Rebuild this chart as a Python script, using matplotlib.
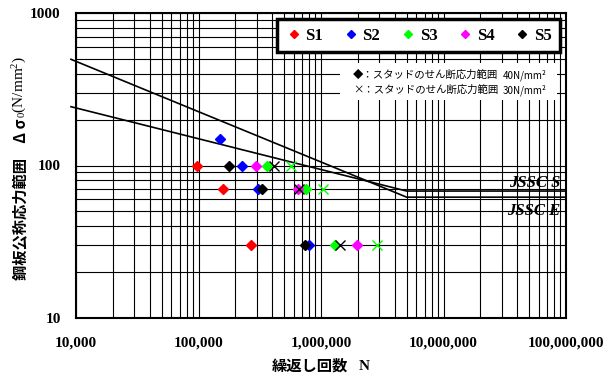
import matplotlib
matplotlib.use('Agg')
import matplotlib.pyplot as plt
from matplotlib.lines import Line2D
from matplotlib.patches import Rectangle
from matplotlib.ticker import FixedLocator, LogLocator, NullFormatter, FuncFormatter

# Data
series_names = ['S1', 'S2', 'S3', 'S4', 'S5']
series_colors = ['#ff0000', '#0000ff', '#00ff00', '#ff00ff', '#000000']

# stud shear stress range 40 N/mm2 -> diamonds
s1_n = [97000, 158000, 267000]
s1_s = [100, 70, 30]
s2_n = [149000, 228000, 306000, 791000]
s2_s = [150, 100, 70, 30]
s3_n = [362000, 748000, 1312000]
s3_s = [100, 70, 30]
s4_n = [292000, 647000, 1972000]
s4_s = [100, 70, 30]
s5_n = [176000, 330000, 734000]
s5_s = [100, 70, 30]

# stud shear stress range 30 N/mm2 -> crosses
s3_x_n = [572000, 1036000, 2870000]
s3_x_s = [100, 70, 30]
s5_x_n = [413000, 656000, 1432000]
s5_x_s = [100, 70, 30]

# design curves
jssc_e_n = [9100, 5.0e6, 1e8]
jssc_e_s = [497, 62, 62]
jssc_s_n = [9100, 5.0e6, 1e8]
jssc_s_s = [243, 68, 68]

x_ticks = [1e4, 1e5, 1e6, 1e7, 1e8]
y_ticks = [10, 100, 1000]

JP = 'Noto Sans CJK JP'
SERIF = 'Liberation Serif'
plt.rcParams['mathtext.fontset'] = 'custom'
plt.rcParams['mathtext.rm'] = SERIF
plt.rcParams['mathtext.it'] = SERIF

W, H = 607, 378
fig = plt.figure(figsize=(W / 100, H / 100), dpi=100)
ax = fig.add_axes([76 / W, 1 - 318 / H, 490 / W, 305 / H])

ax.set_xscale('log')
ax.set_yscale('log')
ax.set_xlim(1e4, 1e8)
ax.set_ylim(10, 1000)

ax.xaxis.set_major_locator(FixedLocator(x_ticks))
ax.yaxis.set_major_locator(FixedLocator(y_ticks))
ax.xaxis.set_minor_locator(LogLocator(base=10, subs=range(2, 10)))
ax.yaxis.set_minor_locator(LogLocator(base=10, subs=range(2, 10)))
ax.xaxis.set_minor_formatter(NullFormatter())
ax.yaxis.set_minor_formatter(NullFormatter())
ax.xaxis.set_major_formatter(FuncFormatter(lambda v, p: f"{int(round(v)):,}"))
ax.yaxis.set_major_formatter(FuncFormatter(lambda v, p: f"{int(round(v))}"))
ax.tick_params(which='both', length=0)
ax.tick_params(axis='x', pad=13)
ax.tick_params(axis='y', pad=11)
for lab in ax.get_xticklabels() + ax.get_yticklabels():
    lab.set_fontfamily(SERIF)
    lab.set_fontweight('bold')
    lab.set_fontsize(11)

ax.grid(True, which='both', color='black', linewidth=0.8)
for sp in ax.spines.values():
    sp.set_linewidth(1.5)

# design curves
ax.plot(jssc_e_n, jssc_e_s, color='black', lw=1.2, zorder=2, clip_on=False)
ax.plot(jssc_s_n, jssc_s_s, color='black', lw=1.2, zorder=2, clip_on=False)
ax.text(0.988, 0.443, 'JSSC S', transform=ax.transAxes, ha='right', va='center',
        family=SERIF, style='italic', weight='bold', fontsize=12, zorder=4)
ax.text(0.988, 0.351, 'JSSC E', transform=ax.transAxes, ha='right', va='center',
        family=SERIF, style='italic', weight='bold', fontsize=12, zorder=4)

# test points
all_n = [s1_n, s2_n, s3_n, s4_n, s5_n]
all_s = [s1_s, s2_s, s3_s, s4_s, s5_s]
handles = []
for name, col, n, s in zip(series_names, series_colors, all_n, all_s):
    ax.plot(n, s, linestyle='none', marker='D', ms=4.8, color=col, mec=col, zorder=3)
    handles.append(Line2D([], [], linestyle='none', marker='D', ms=4.0, color=col, label=name))
ax.plot(s3_x_n, s3_x_s, linestyle='none', marker='x', ms=7, mew=1.0, color='#00ff00', zorder=3)
ax.plot(s5_x_n, s5_x_s, linestyle='none', marker='x', ms=7, mew=1.0, color='black', zorder=3)

# legend box
leg = ax.legend(handles=handles, ncol=5, loc='lower left', mode='expand',
                bbox_to_anchor=((277 - 76) / 490, (318 - 52) / 305, 283 / 490, 36 / 305),
                frameon=True, fancybox=False, borderaxespad=0, handletextpad=0.2,
                handlelength=1.0, columnspacing=1.0, borderpad=0.5,
                prop={'family': SERIF, 'weight': 'bold', 'size': 12})
leg.get_frame().set_edgecolor('black')
leg.get_frame().set_linewidth(2.5)
leg.get_frame().set_alpha(1)
leg.set_zorder(6)

# note block
ax.add_patch(Rectangle(((340 - 76) / 490, (318 - 100) / 305), 217 / 490, 37 / 305,
                       transform=ax.transAxes, facecolor='white', edgecolor='none', zorder=2))
note_fam = [JP, 'DejaVu Sans']
for yy, mark, val in [(75, '◆', '40N/mm²'), (90, '×', '30N/mm²')]:
    ax.text((353 - 76) / 490, (318 - yy) / 305, mark + '：スタッドのせん断応力範囲',
            transform=ax.transAxes, ha='left', va='center', family=note_fam,
            fontsize=7.5, zorder=4)
    ax.text((547 - 76) / 490, (318 - yy) / 305, val,
            transform=ax.transAxes, ha='right', va='center', family=note_fam,
            fontsize=7.0, zorder=4)

# axis titles built from pieces (gothic + serif)
fig.canvas.draw()
r = fig.canvas.get_renderer()

t1 = fig.text(0, 0, '鋼板公称応力範囲　Δ σ', rotation=90, rotation_mode='anchor',
              ha='left', va='center', family=JP, weight='bold', fontsize=11)
t2 = fig.text(0, 0, r'$_0$(N/mm$^2$)', rotation=90, rotation_mode='anchor',
              ha='left', va='center', family=SERIF, fontsize=11)
h1 = t1.get_window_extent(r).height
h2 = t2.get_window_extent(r).height
start = 168 + (h1 + h2) / 2
t1.set_position((20 / W, 1 - start / H))
t2.set_position((20 / W, 1 - (start - h1) / H))

t3 = fig.text(0, 0, '繰返し回数', ha='left', va='center', family=JP, weight='bold', fontsize=11)
t4 = fig.text(0, 0, 'N', ha='left', va='center', family=SERIF, weight='bold', fontsize=11)
w3 = t3.get_window_extent(r).width
w4 = t4.get_window_extent(r).width
gap = 11
x0 = 321 - (w3 + gap + w4) / 2
t3.set_position((x0 / W, 1 - 366 / H))
t4.set_position(((x0 + w3 + gap) / W, 1 - 366 / H))

fig.savefig('out.png', dpi=100)
